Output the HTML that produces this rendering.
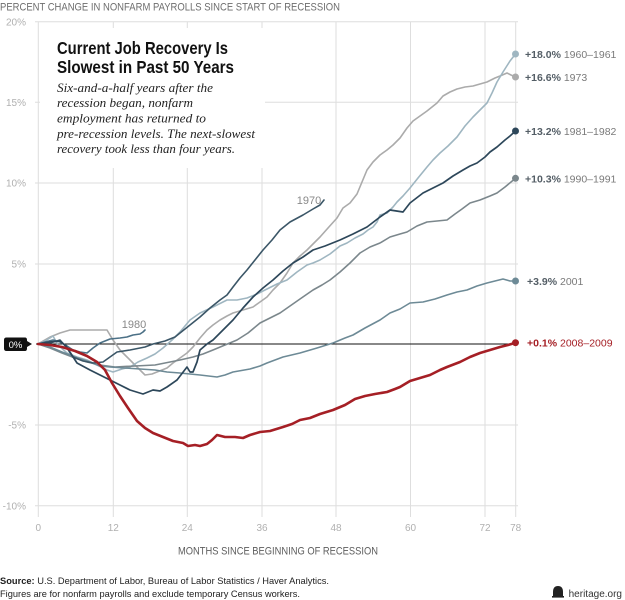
<!DOCTYPE html>
<html>
<head>
<meta charset="utf-8">
<style>
  html, body { margin:0; padding:0; background:#fff; }
  body { width:625px; height:600px; overflow:hidden; }
  svg { display:block; }
  .sans { font-family: "Liberation Sans", "DejaVu Sans", sans-serif; }
</style>
</head>
<body>
<svg width="625" height="600" viewBox="0 0 625 600" xmlns="http://www.w3.org/2000/svg" class="sans" style="font-family:'Liberation Sans','DejaVu Sans',sans-serif">
  <rect x="0" y="0" width="625" height="600" fill="#fff"/>

  <!-- top axis title -->
  <text x="0" y="10.5" font-size="11" fill="#6e6e6e" textLength="340" lengthAdjust="spacingAndGlyphs">PERCENT CHANGE IN NONFARM PAYROLLS SINCE START OF RECESSION</text>

  <!-- gridlines -->
  <g stroke="#dedede" stroke-width="1" fill="none">
    <line x1="38.3" y1="21.7" x2="38.3" y2="517"/>
    <line x1="113.3" y1="21.7" x2="113.3" y2="517"/>
    <line x1="187.3" y1="21.7" x2="187.3" y2="517"/>
    <line x1="262" y1="21.7" x2="262" y2="517"/>
    <line x1="336" y1="21.7" x2="336" y2="517"/>
    <line x1="410.5" y1="21.7" x2="410.5" y2="517"/>
    <line x1="485" y1="21.7" x2="485" y2="517"/>
    <line x1="515.7" y1="21.7" x2="515.7" y2="517"/>
    <line x1="35" y1="21.7" x2="518" y2="21.7"/>
    <line x1="35" y1="102.3" x2="518" y2="102.3"/>
    <line x1="35" y1="183" x2="518" y2="183"/>
    <line x1="35" y1="264" x2="518" y2="264"/>
    <line x1="35" y1="425" x2="518" y2="425"/>
    <line x1="35" y1="505.7" x2="518" y2="505.7"/>
  </g>

  <!-- title box background -->
  <rect x="40" y="28" width="225" height="140" fill="#fff"/>

  <!-- y tick labels -->
  <g font-size="10" fill="#b0b0b0" text-anchor="end">
    <text x="26" y="25.5">20%</text>
    <text x="26" y="106">15%</text>
    <text x="26" y="186.5">10%</text>
    <text x="26" y="267.5">5%</text>
    <text x="26" y="428.5">-5%</text>
    <text x="26" y="509.5">-10%</text>
  </g>

  <!-- x tick labels -->
  <g font-size="10" fill="#b0b0b0" text-anchor="middle">
    <text x="38.3" y="531">0</text>
    <text x="113.3" y="531">12</text>
    <text x="187.3" y="531">24</text>
    <text x="262" y="531">36</text>
    <text x="336" y="531">48</text>
    <text x="410.5" y="531">60</text>
    <text x="485" y="531">72</text>
    <text x="515.7" y="531">78</text>
  </g>

  <text x="278" y="554.5" font-size="10.8" fill="#5e5e5e" text-anchor="middle" textLength="200" lengthAdjust="spacingAndGlyphs">MONTHS SINCE BEGINNING OF RECESSION</text>

  <!-- title -->
  <text x="57" y="54" font-size="17.5" font-weight="bold" fill="#111" textLength="171" lengthAdjust="spacingAndGlyphs">Current Job Recovery Is</text>
  <text x="57" y="73" font-size="17.5" font-weight="bold" fill="#111" textLength="177" lengthAdjust="spacingAndGlyphs">Slowest in Past 50 Years</text>
  <g style="font-family:'Liberation Serif','DejaVu Serif',serif;font-style:italic" font-size="13" fill="#222">
    <text x="57" y="92" style="font-family:'Liberation Serif','DejaVu Serif',serif;font-style:italic" textLength="156" lengthAdjust="spacingAndGlyphs">Six-and-a-half years after the</text>
    <text x="57" y="107" style="font-family:'Liberation Serif','DejaVu Serif',serif;font-style:italic" textLength="136" lengthAdjust="spacingAndGlyphs">recession began, nonfarm</text>
    <text x="57" y="122.5" style="font-family:'Liberation Serif','DejaVu Serif',serif;font-style:italic" textLength="149" lengthAdjust="spacingAndGlyphs">employment has returned to</text>
    <text x="57" y="138" style="font-family:'Liberation Serif','DejaVu Serif',serif;font-style:italic" textLength="198" lengthAdjust="spacingAndGlyphs">pre-recession levels. The next-slowest</text>
    <text x="57" y="153" style="font-family:'Liberation Serif','DejaVu Serif',serif;font-style:italic" textLength="178" lengthAdjust="spacingAndGlyphs">recovery took less than four years.</text>
  </g>

  <!-- zero line -->
  <line x1="36" y1="344" x2="518" y2="344" stroke="#111" stroke-width="1"/>
  <path d="M4,340 Q4,337.5 6.5,337.5 L25,337.5 Q27,337.5 27,340 L27,341 L32,344 L27,347 L27,348.5 Q27,351 25,351 L6.5,351 Q4,351 4,348.5 Z" fill="#111"/>
  <text x="15.5" y="348" font-size="9.5" fill="#fff" text-anchor="middle">0%</text>

  <!-- series -->
  <g fill="none" stroke-linejoin="round" stroke-linecap="round">
    <!-- 1973 -->
    <polyline stroke="#ababab" stroke-width="1.6" points="38,344 45,340 50,337 60,333 70,330 80,330 90,330 100,330 107,330 113,340 120,350 127,357 133,363 140,370 145,375 152,374 157,372 167,368 173,363 180,358 187,353 193,347 200,338 207,330 213,325 220,320 227,316 233,313 243,310 253,307 260,302 267,297 273,290 280,283 287,273 293,263 300,256 307,250 313,244 320,237 328,228 337,218 343,208 350,203 357,194 362,182 367,170 373,162 380,155 387,150 393,145 400,138 407,128 413,121 420,116 427,111 437,103 443,96 450,92 457,89 465,87 473,86 480,84 487,82 495,78 500,76 507,73 511,75 515.5,77"/>
    <!-- 1960-1961 -->
    <polyline stroke="#9fb6c1" stroke-width="1.6" points="38,344 45,341 50,338 53,336 58,345 67,353 77,357 87,360 97,365 107,370 113,372 122,369 130,367 138,362 147,358 155,354 163,348 172,340 180,332 190,320 200,313 213,307 227,300 237,300 247,298 257,294 267,289 277,284 287,280 297,272 307,265 313,263 320,260 330,254 340,246 347,243 355,238 363,234 368,230 373,227 377,222 380,215 387,213 393,207 397,202 403,196 410,188 418,178 427,167 433,160 440,153 448,146 457,137 465,126 473,117 480,110 487,103 492,93 497,82 503,72 510,61 515.5,54"/>
    <!-- 1990-1991 -->
    <polyline stroke="#7b878c" stroke-width="1.6" points="38,344 50,348 62,353 75,358 87,362 100,365 115,367 135,366 155,365 170,362 180,360 193,357 203,354 213,350 225,345 237,340 248,333 260,323 270,318 280,313 290,306 300,299 313,290 322,285 330,280 340,272 350,263 360,253 370,247 380,243 390,237 400,234 407,232 417,226 427,222 437,221 447,220 455,214 462,209 470,203 480,200 490,196 497,193 505,187 515.5,178.3"/>
    <!-- 2001 -->
    <polyline stroke="#6d8a96" stroke-width="1.6" points="38,344 50,347 62,352 75,357 87,361 100,366 110,367 125,368 140,369 155,370 167,372 180,373 200,375 217,377 225,375 233,372 250,369 260,366 267,363 283,357 300,353 317,348 333,343 345,338 353,335 365,328 380,320 390,313 400,309 410,303 423,302 435,299 447,295 457,292 467,290 477,286 487,283 495,281 503,279 510,281 515.5,281"/>
    <!-- 1980 -->
    <polyline stroke="#4b7086" stroke-width="1.6" points="38,344 45,342 53,340 60,342 67,346 73,350 80,352 87,353 93,348 100,343 110,339 120,338 127,337 133,335 140,334 143,332 145,330"/>
    <!-- 1970 -->
    <polyline stroke="#3b5667" stroke-width="1.6" points="38,344 50,343 60,340 67,348 73,357 83,361 93,363 103,362 110,357 117,352 130,350 145,347 153,344 165,341 175,337 180,333 190,325 200,317 210,308 220,300 227,295 233,287 240,278 247,270 255,260 263,250 272,240 280,230 290,222 303,215 313,209 320,205 324,200"/>
    <!-- 1981-1982 -->
    <polyline stroke="#2d475a" stroke-width="1.7" points="38,344 50,342 60,341 66,346 77,363 90,370 100,375 110,380 120,385 130,390 143,394 153,390 160,391 167,387 177,380 187,367 190,372 193,372 197,362 200,350 207,344 213,340 223,330 233,320 243,308 253,297 263,288 273,280 283,271 293,263 303,257 313,250 325,246 340,240 353,234 367,227 380,217 390,210 403,212 410,203 423,193 433,188 443,183 453,176 463,170 470,166 477,163 485,157 490,152 497,147 505,140 510,136 515.5,131"/>
    <!-- 2008-2009 -->
    <polyline stroke="#a51f25" stroke-width="2.6" points="38,344 50,345 62,347 75,351 87,356 97,362 105,370 112,383 120,396 128,408 137,421 145,428 153,433 163,437 173,441 183,443 188,446 195,445 200,446 207,444 212,440 217,435 225,437 235,437 243,438 250,435 260,432 270,431 283,427 292,424 300,420 310,418 320,414 333,410 345,405 355,399 365,396 375,394 387,392 395,389 400,387 410,381 420,378 430,375 440,370 447,367 460,362 470,357 480,353 490,350 500,347 508,345 515.5,342.7"/>
  </g>

  <!-- end dots -->
  <circle cx="515.5" cy="54" r="3.5" fill="#9fb6c1"/>
  <circle cx="515.5" cy="77" r="3.5" fill="#ababab"/>
  <circle cx="515.5" cy="131" r="3.5" fill="#2d475a"/>
  <circle cx="515.5" cy="178.3" r="3.5" fill="#7b878c"/>
  <circle cx="515.5" cy="281" r="3.5" fill="#6d8a96"/>
  <circle cx="515.5" cy="342.7" r="3.5" fill="#a51f25"/>

  <!-- inline series labels -->
  <text x="309" y="204" font-size="11" fill="#888" text-anchor="middle">1970</text>
  <text x="134" y="328" font-size="11" fill="#888" text-anchor="middle">1980</text>

  <!-- right labels -->
  <g font-size="10.5">
    <text x="525" y="58"><tspan font-weight="bold" fill="#545e66">+18.0%</tspan><tspan fill="#7a7a7a"> 1960–1961</tspan></text>
    <text x="525" y="81"><tspan font-weight="bold" fill="#545e66">+16.6%</tspan><tspan fill="#7a7a7a"> 1973</tspan></text>
    <text x="525" y="135"><tspan font-weight="bold" fill="#545e66">+13.2%</tspan><tspan fill="#7a7a7a"> 1981–1982</tspan></text>
    <text x="525" y="182.5"><tspan font-weight="bold" fill="#545e66">+10.3%</tspan><tspan fill="#7a7a7a"> 1990–1991</tspan></text>
    <text x="527" y="285"><tspan font-weight="bold" fill="#545e66">+3.9%</tspan><tspan fill="#7a7a7a"> 2001</tspan></text>
    <text x="527" y="346.5"><tspan font-weight="bold" fill="#a51f25">+0.1%</tspan><tspan fill="#a51f25"> 2008–2009</tspan></text>
  </g>

  <!-- source -->
  <text x="0" y="584" font-size="9.5" fill="#222" textLength="329" lengthAdjust="spacingAndGlyphs"><tspan font-weight="bold">Source:</tspan> U.S. Department of Labor, Bureau of Labor Statistics / Haver Analytics.</text>
  <text x="0" y="597" font-size="9.5" fill="#222" textLength="300" lengthAdjust="spacingAndGlyphs">Figures are for nonfarm payrolls and exclude temporary Census workers.</text>

  <!-- heritage logo -->
  <g fill="#222">
    <path d="M553,596 L553,592 Q553,586 558,586 Q563,586 563,592 L563,596 Z"/>
    <rect x="552" y="596" width="12" height="1.6"/>
  </g>
  <text x="622" y="597" font-size="10" fill="#333" text-anchor="end">heritage.org</text>
</svg>
</body>
</html>
